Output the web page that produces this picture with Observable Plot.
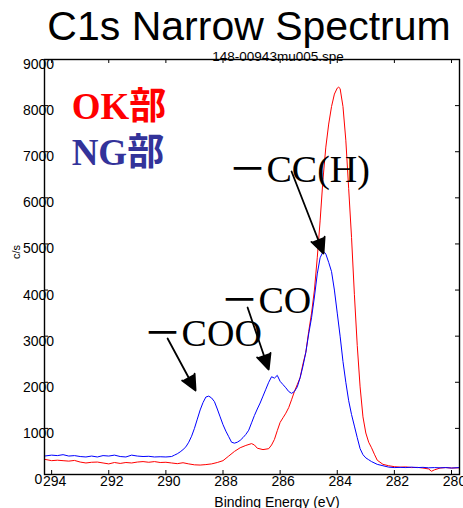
<!DOCTYPE html>
<html><head><meta charset="utf-8">
<script src="https://cdn.jsdelivr.net/npm/d3@7"></script>
<script src="https://cdn.jsdelivr.net/npm/@observablehq/plot@0.6"></script>
<style>body{margin:0;background:#fff}</style>
</head><body><div id="chart"></div>
<script>
// OK部 (red) spectrum: [binding energy eV, counts/s]
const okSeries = [[294.25,330],[294.0,300],[293.8,310],[293.6,300],[293.4,290],[293.2,305],[293.0,270],[292.8,250],[292.6,265],[292.4,270],[292.2,250],[292.0,230],[291.8,260],[291.6,240],[291.4,260],[291.2,250],[291.0,270],[290.8,280],[290.6,265],[290.4,280],[290.2,260],[290.0,265],[289.8,250],[289.6,235],[289.4,255],[289.2,230],[289.0,210],[288.8,205],[288.6,215],[288.4,230],[288.2,260],[288.0,300],[287.8,400],[287.6,500],[287.4,580],[287.2,630],[287.0,670],[286.9,640],[286.8,570],[286.6,540],[286.4,560],[286.3,640],[286.2,760],[286.1,950],[286.0,1130],[285.9,1230],[285.8,1330],[285.7,1450],[285.6,1620],[285.5,1800],[285.4,1950],[285.3,2100],[285.2,2400],[285.1,2650],[285.0,3100],[284.9,3500],[284.8,4000],[284.7,4700],[284.6,5500],[284.5,6400],[284.4,7100],[284.3,7600],[284.2,7980],[284.1,8250],[284.0,8380],[283.95,8400],[283.9,8370],[283.8,7980],[283.7,7250],[283.6,6200],[283.5,5140],[283.4,3900],[283.3,2800],[283.2,1900],[283.1,1250],[283.0,900],[282.9,700],[282.8,580],[282.7,440],[282.6,310],[282.4,220],[282.2,190],[282.0,170],[281.8,160],[281.6,165],[281.4,150],[281.2,155],[281.0,140],[280.8,120],[280.7,70],[280.6,100],[280.4,140],[280.2,150],[280.0,140],[279.72,145]];
// NG部 (blue) spectrum
const ngSeries = [[294.25,400],[294.0,420],[293.8,410],[293.6,430],[293.4,400],[293.2,410],[293.0,390],[292.8,380],[292.6,400],[292.4,380],[292.2,410],[292.0,400],[291.8,420],[291.6,390],[291.4,380],[291.2,420],[291.0,400],[290.8,390],[290.6,395],[290.4,380],[290.2,385],[290.0,380],[289.8,390],[289.7,420],[289.6,450],[289.5,490],[289.4,540],[289.3,600],[289.2,700],[289.1,830],[289.0,1000],[288.9,1200],[288.8,1400],[288.7,1560],[288.6,1680],[288.5,1700],[288.4,1660],[288.3,1580],[288.2,1420],[288.1,1250],[288.0,1080],[287.9,940],[287.8,820],[287.7,700],[287.6,680],[287.5,700],[287.4,740],[287.3,800],[287.2,870],[287.1,960],[287.0,1120],[286.9,1280],[286.8,1420],[286.7,1550],[286.6,1700],[286.5,1850],[286.4,2000],[286.3,2120],[286.2,2090],[286.1,2150],[286.0,2020],[285.9,1950],[285.8,1880],[285.7,1800],[285.6,1760],[285.5,1800],[285.4,1900],[285.3,2100],[285.2,2350],[285.1,2650],[285.0,3050],[284.9,3400],[284.8,3850],[284.7,4350],[284.6,4700],[284.5,4830],[284.45,4820],[284.4,4780],[284.3,4600],[284.2,4400],[284.1,4000],[284.0,3500],[283.9,3000],[283.8,2450],[283.7,2000],[283.6,1600],[283.5,1300],[283.4,1050],[283.3,800],[283.2,560],[283.1,430],[283.0,360],[282.9,320],[282.8,280],[282.6,220],[282.4,190],[282.2,160],[282.0,150],[281.8,155],[281.6,150],[281.4,160],[281.2,150],[281.0,155],[280.8,145],[280.6,150],[280.4,145],[280.2,150],[280.0,140],[279.72,150]];

const xTicks = [294, 292, 290, 288, 286, 284, 282, 280];
const yTicks = [0, 1000, 2000, 3000, 4000, 5000, 6000, 7000, 8000, 9000];
const xDomain = [294.25, 279.72];
const yDomain = [0, 9000];

const titleText = "C1s Narrow Spectrum";
const subtitleText = "148-00943mu005.spe";
const xLabel = "Binding Energy (eV)";
const yLabel = "c/s";

// legend-like labels: [text, energy, cps]
const legendLabels = [["OK部", 293.30, 7700], ["NG部", 293.30, 6720]];
const legendColors = ["#ff0000", "#33339a"];
// peak annotations: [text, energy, cps]
const peakLabels = [["－CC(H)", 287.81, 6354], ["－CO", 288.09, 3492], ["－COO", 290.78, 2776]];
// arrows: [fromEnergy, fromCps, toEnergy, toCps]
const peakArrows = [[285.60, 6571, 284.48, 4793], [287.14, 3622, 286.40, 2277], [289.94, 2949, 288.96, 1822]];

const ok = okSeries.map(([e, c]) => ({e, c}));
const ng = ngSeries.map(([e, c]) => ({e, c}));
const inner = yTicks.slice(1, -1);
const serif = "'Liberation Serif', 'Noto Sans CJK JP', serif";

const chart = Plot.plot({
  width: 463, height: 508,
  marginLeft: 44, marginRight: 4, marginTop: 59, marginBottom: 34,
  x: {domain: xDomain, axis: null},
  y: {domain: yDomain, axis: null},
  style: {fontFamily: "'Liberation Sans', Arial, sans-serif", background: "#fff", color: "#000"},
  marks: [
    Plot.line(ok, {x: "e", y: "c", stroke: "#ff0000", strokeWidth: 1}),
    Plot.line(ng, {x: "e", y: "c", stroke: "#0000ff", strokeWidth: 1}),
    Plot.frame({stroke: "#000", strokeWidth: 1.4}),
    Plot.tickX(xTicks, {x: d => d, insetBottom: 411, stroke: "#000"}),
    Plot.tickX(xTicks, {x: d => d, insetTop: 411, stroke: "#000"}),
    Plot.tickY(inner, {y: d => d, insetRight: 411, stroke: "#000"}),
    Plot.tickY(inner, {y: d => d, insetLeft: 411, stroke: "#000"}),
    Plot.text(yTicks, {y: d => d, text: d => String(d), frameAnchor: "left", dx: -6, dy: 5, textAnchor: "middle", fontSize: 14, fill: "#000"}),
    Plot.text(xTicks, {x: d => d, text: d => String(d), frameAnchor: "bottom", dx: 3, dy: 11, textAnchor: "middle", fontSize: 14, fill: "#000"}),
    Plot.text([titleText], {text: d => d, frameAnchor: "top", dx: -3, dy: -20, lineAnchor: "bottom", fontSize: 41, fill: "#000"}),
    Plot.text([subtitleText], {text: d => d, frameAnchor: "top", dx: 26, dy: 1, lineAnchor: "bottom", fontSize: 13.5, fill: "#000"}),
    Plot.text([xLabel], {text: d => d, frameAnchor: "bottom", dx: 25, dy: 32, lineAnchor: "bottom", fontSize: 14, fill: "#000"}),
    Plot.text([yLabel], {text: d => d, frameAnchor: "left", rotate: -90, dx: -28, dy: -8, fontSize: 11, fill: "#000"}),
    Plot.text(legendLabels, {x: d => d[1], y: d => d[2], text: d => d[0], fill: (d, i) => legendColors[i], textAnchor: "start", lineAnchor: "bottom", fontSize: 37, fontWeight: "bold", fontFamily: serif}),
    Plot.text(peakLabels, {x: d => d[1], y: d => d[2], text: d => d[0], fill: "#000", textAnchor: "start", lineAnchor: "bottom", fontSize: 38, fontFamily: serif}),
    Plot.arrow(peakArrows, {x1: d => d[0], y1: d => d[1], x2: d => d[2], y2: d => d[3], stroke: "#000", fill: "#000", strokeWidth: 1.8, headLength: 14, headAngle: 50})
  ]
});
document.getElementById("chart").appendChild(chart);
</script>
</body></html>
